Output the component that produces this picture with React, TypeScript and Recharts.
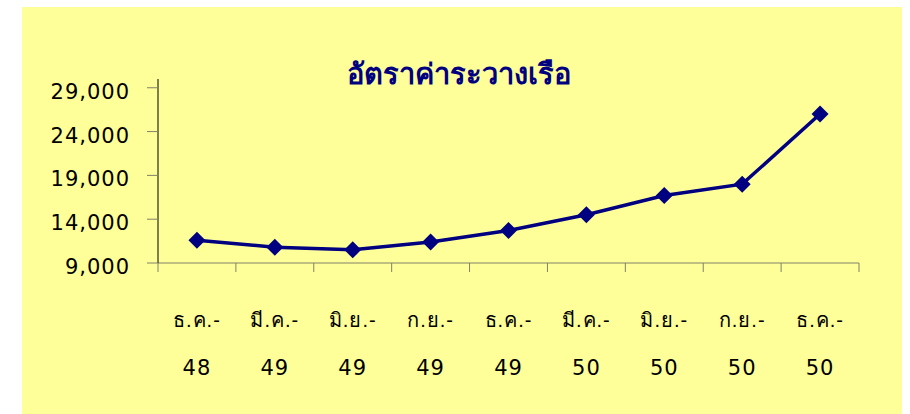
import { LineChart, Line, XAxis, YAxis } from "recharts";

const months = ["ธ.ค.-", "มี.ค.-", "มิ.ย.-", "ก.ย.-", "ธ.ค.-", "มี.ค.-", "มิ.ย.-", "ก.ย.-", "ธ.ค.-"];
const years = ["48", "49", "49", "49", "49", "50", "50", "50", "50"];
const freight = [11600, 10800, 10500, 11400, 12700, 14500, 16700, 18000, 26000];
const yTicks = [9000, 14000, 19000, 24000, 29000];

const data = freight.map((v, i) => ({ pos: i + 0.5, value: v }));
// tick positions: integers are boundary tick marks, halves carry the labels
const xTicks: number[] = [];
for (let i = 0; i <= months.length; i++) {
  xTicks.push(i);
  if (i < months.length) xTicks.push(i + 0.5);
}

const font = "'Liberation Sans', Arial, sans-serif";
const numFont = "'DejaVu Sans', Verdana, sans-serif";

const XTick = (props: any) => {
  const { x, y, payload } = props;
  const v = payload.value;
  if (Number.isInteger(v)) {
    return <line x1={x} y1={y} x2={x} y2={y + 9} stroke="#808066" />;
  }
  const i = Math.floor(v);
  return (
    <g fill="#000">
      <text x={x} y={y + 64} textAnchor="middle" fontFamily={font} fontSize={20} letterSpacing={1}>
        {months[i]}
      </text>
      <text x={x} y={y + 112} textAnchor="middle" fontFamily={numFont} fontSize={21} letterSpacing={1}>
        {years[i]}
      </text>
    </g>
  );
};

const YTick = (props: any) => {
  const { x, y, payload } = props;
  return (
    <text x={x} y={y} dy={11} textAnchor="end" fontFamily={numFont} fontSize={21} fill="#000" letterSpacing={1}>
      {Number(payload.value).toLocaleString("en-US")}
    </text>
  );
};

const Diamond = (props: any) => {
  const { cx, cy } = props;
  if (cx == null || cy == null) return null;
  const r = 8.5;
  return (
    <path
      d={`M${cx},${cy - r} L${cx + r},${cy} L${cx},${cy + r} L${cx - r},${cy} Z`}
      fill="#000080"
    />
  );
};

export default function App() {
  return (
    <div style={{ position: "absolute", left: 22, top: 7, width: 880, height: 407, background: "#FFFF99" }}>
      <div
        style={{
          position: "absolute",
          left: 0,
          width: 874,
          top: 49,
          textAlign: "center",
          fontFamily: font,
          fontWeight: "bold",
          fontSize: 29,
          color: "#000080",
          lineHeight: "36px",
        }}
      >
        อัตราค่าระวางเรือ
      </div>
      <LineChart width={880} height={407} data={data} margin={{ top: 72, right: 43, bottom: 31, left: 0 }}>
        <XAxis
          dataKey="pos"
          type="number"
          domain={[0, 9]}
          ticks={xTicks}
          interval={0}
          tickLine={false}
          tickSize={0}
          tickMargin={0}
          tick={<XTick />}
          axisLine={{ stroke: "#808066" }}
          height={120}
        />
        <YAxis
          domain={[9000, 30000]}
          ticks={yTicks}
          interval={0}
          width={136}
          tickSize={11}
          tickMargin={17}
          tickLine={{ stroke: "#808066" }}
          axisLine={{ stroke: "#000" }}
          tick={<YTick />}
        />
        <Line
          dataKey="value"
          stroke="#000080"
          strokeWidth={3.5}
          dot={<Diamond />}
          activeDot={false}
          isAnimationActive={false}
        />
      </LineChart>
    </div>
  );
}
